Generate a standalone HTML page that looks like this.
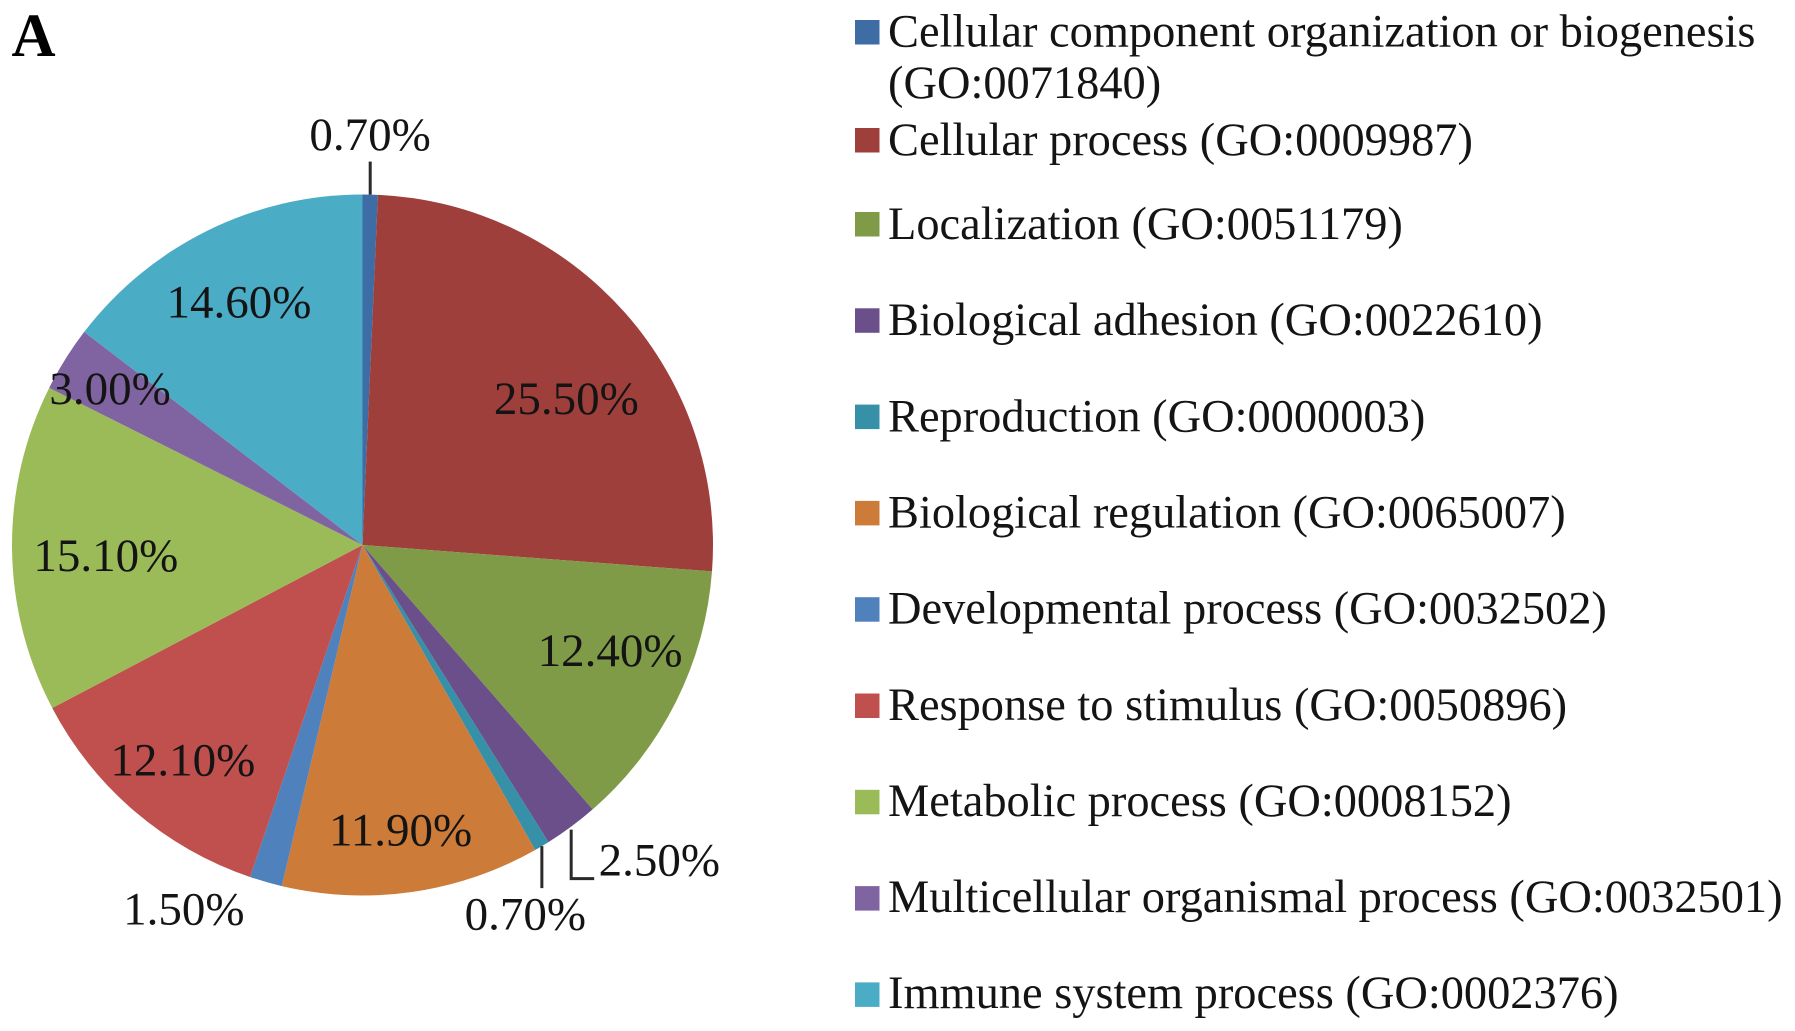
<!DOCTYPE html>
<html lang="en">
<head>
<meta charset="utf-8">
<title>GO biological process pie chart</title>
<style>
  html, body { margin: 0; padding: 0; background: #fff; }
  svg { display: block; }
  text { font-family: "Liberation Serif", serif; fill: #141414; }
</style>
</head>
<body>
<svg id="chart" xmlns="http://www.w3.org/2000/svg" width="1795" height="1031" viewBox="0 0 1795 1031">
  <text x="11.5" y="56" font-size="61" font-weight="700" style="fill:#000">A</text>
  <g id="pie"></g>
  <g id="leaders"></g>
  <g id="labels"></g>
  <g id="legend"></g>
</svg>
<script>
const categories = [
  "Cellular component organization or biogenesis (GO:0071840)",
  "Cellular process (GO:0009987)",
  "Localization (GO:0051179)",
  "Biological adhesion (GO:0022610)",
  "Reproduction (GO:0000003)",
  "Biological regulation (GO:0065007)",
  "Developmental process (GO:0032502)",
  "Response to stimulus (GO:0050896)",
  "Metabolic process (GO:0008152)",
  "Multicellular organismal process (GO:0032501)",
  "Immune system process (GO:0002376)"
];
const percentValues = [0.7, 25.5, 12.4, 2.5, 0.7, 11.9, 1.5, 12.1, 15.1, 3.0, 14.6];
const sliceColors = ["#3e6da5", "#9e3f3c", "#809b48", "#6a4f8b", "#3590a8", "#cd7b38", "#4f81bd", "#c0504d", "#9bbb59", "#8064a2", "#4bacc6"];

const NS = "http://www.w3.org/2000/svg";
const cx = 362.5, cy = 545, radius = 350.5;
const total = percentValues.reduce(function (a, b) { return a + b; }, 0);

function angleOf(cumulative) { return cumulative / total * 2 * Math.PI; }
function polarX(angle, r) { return cx + r * Math.sin(angle); }
function polarY(angle, r) { return cy - r * Math.cos(angle); }

function drawChart() {
  // label placement relative to each slice: radius factor, angular offset in degrees
  const labelRadiusFactor = [1.17, 0.715, 0.768, 1.236, 1.152, 0.822, 1.158, 0.801, 0.733, 0.847, 0.777];
  const labelAngleOffset = [-0.2, 6.0, -3.5, -6.7, 7.0, 0.5, 10.1, -0.7, -1.9, -0.3, -0.7];
  const leaderStyle = ["up", "", "", "elbow", "down", "", "", "", "", "", ""];

  const pie = document.getElementById("pie");
  const labels = document.getElementById("labels");
  const leaders = document.getElementById("leaders");
  const legend = document.getElementById("legend");
  let cumulative = 0;

  percentValues.forEach(function (value, i) {
    const a0 = angleOf(cumulative);
    const a1 = angleOf(cumulative + value);
    const mid = (a0 + a1) / 2;
    cumulative += value;

    const large = (a1 - a0) > Math.PI ? 1 : 0;
    const slice = document.createElementNS(NS, "path");
    slice.setAttribute("d", "M" + cx + " " + cy + "L" + polarX(a0, radius) + " " + polarY(a0, radius) +
      "A" + radius + " " + radius + " 0 " + large + " 1 " + polarX(a1, radius) + " " + polarY(a1, radius) + "Z");
    slice.setAttribute("fill", sliceColors[i]);
    
    
    pie.appendChild(slice);

    const labelAngle = mid + labelAngleOffset[i] * Math.PI / 180;
    const labelRadius = radius * labelRadiusFactor[i];
    const label = document.createElementNS(NS, "text");
    label.setAttribute("x", polarX(labelAngle, labelRadius));
    label.setAttribute("y", polarY(labelAngle, labelRadius) + 15);
    label.setAttribute("text-anchor", "middle");
    label.setAttribute("font-size", "47");
    
    
    label.textContent = value.toFixed(2) + "%";
    labels.appendChild(label);

    if (leaderStyle[i]) {
      const ex = polarX(mid, radius);
      const ey = polarY(mid, radius);
      let d = "";
      if (leaderStyle[i] === "up") d = "M" + ex + " " + ey + "V" + (ey - 33);
      if (leaderStyle[i] === "down") d = "M" + ex + " " + ey + "V" + (ey + 42);
      if (leaderStyle[i] === "elbow") d = "M" + ex + " " + (ey + 3) + "V" + (ey + 52) + "H" + (ex + 23);
      const leader = document.createElementNS(NS, "path");
      leader.setAttribute("d", d);
      leader.setAttribute("fill", "none");
      leader.setAttribute("stroke", "#2a2a2a");
      leader.setAttribute("stroke-width", "3");
      
      
      leaders.appendChild(leader);
    }

    const baseline = i === 0 ? 46.5 : i === 1 ? 155 : 239 + (i - 2) * 96.15;
    const swatch = document.createElementNS(NS, "rect");
    swatch.setAttribute("x", 855);
    swatch.setAttribute("y", (i === 0 ? 45 : i === 1 ? 153 : 237 + (i - 2) * 96.3) - 25);
    swatch.setAttribute("width", 24.5);
    swatch.setAttribute("height", 24.5);
    swatch.setAttribute("fill", sliceColors[i]);
    
    
    legend.appendChild(swatch);

    const entry = document.createElementNS(NS, "text");
    entry.setAttribute("font-size", "46.4");
    
    
    const name = categories[i];
    if (i === 0) {
      const split = name.indexOf(" (GO");
      const first = document.createElementNS(NS, "tspan");
      first.setAttribute("x", 888);
      first.setAttribute("y", baseline);
      first.textContent = name.slice(0, split);
      const second = document.createElementNS(NS, "tspan");
      second.setAttribute("x", 888);
      second.setAttribute("y", baseline + 51.5);
      second.textContent = name.slice(split + 1);
      entry.appendChild(first);
      entry.appendChild(second);
    } else {
      entry.setAttribute("x", 888);
      entry.setAttribute("y", baseline);
      entry.textContent = name;
    }
    legend.appendChild(entry);
  });
}
drawChart();
</script>
</body>
</html>
